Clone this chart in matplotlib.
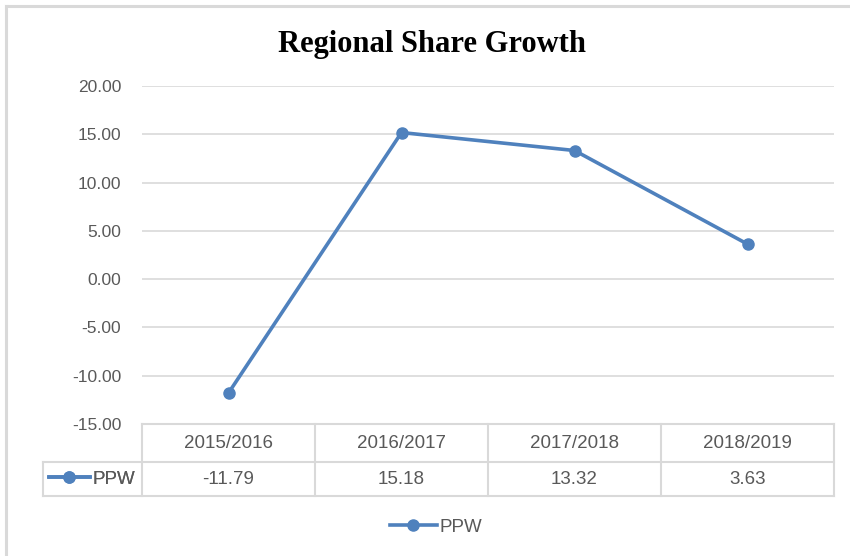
import matplotlib
matplotlib.use("Agg")
import matplotlib.pyplot as plt
import matplotlib.transforms as mtransforms
from matplotlib.lines import Line2D

categories = ["2015/2016", "2016/2017", "2017/2018", "2018/2019"]
ppw = [-11.79, 15.18, 13.32, 3.63]
series_name = "PPW"
yticks = [-15, -10, -5, 0, 5, 10, 15, 20]

blue = "#4f81bd"
grid_c = "#d9d9d9"
text_c = "#595959"
font = "Liberation Sans"
fs = 12.5
fs_tbl = 13.5

W, H = 850, 556
fig = plt.figure(figsize=(W / 100, H / 100), dpi=100)

# plot area in pixels: x 142..834, y 86..424
left, right, top, bottom = 142, 834, 86, 424
ax = fig.add_axes([left / W, 1 - bottom / H, (right - left) / W, (bottom - top) / H])

x = list(range(len(categories)))
ax.plot(x, ppw, color=blue, lw=2.6, marker="o", ms=8, zorder=3,
        solid_capstyle="round")
ax.set_xlim(-0.5, len(categories) - 0.5)
ax.set_ylim(-15, 20)
ax.set_yticks(yticks)
ax.set_yticklabels([f"{v:.2f}" for v in yticks], fontfamily=font, fontsize=fs, color=text_c)
ax.set_xticks([])
ax.tick_params(axis="y", length=0, pad=15)
ax.yaxis.grid(True, color=grid_c, lw=1.2)
ax.set_axisbelow(True)
for s in ax.spines.values():
    s.set_visible(False)

# data table below the plot
tr = mtransforms.blended_transform_factory(ax.transData, ax.transAxes)
ph = bottom - top
row1 = -(462 - bottom) / ph
row2 = -(496 - bottom) / ph
lab_left = (43 - left) / (right - left)
tbl_kw = dict(color=grid_c, lw=1.5, clip_on=False)
ax.plot([-0.5, len(categories) - 0.5], [0, 0], transform=tr, **tbl_kw)
ax.plot([lab_left, 1], [row1, row1], transform=ax.transAxes, **tbl_kw)
ax.plot([lab_left, 1], [row2, row2], transform=ax.transAxes, **tbl_kw)
ax.plot([lab_left, lab_left], [row1, row2], transform=ax.transAxes, **tbl_kw)
for i in range(len(categories) + 1):
    ax.plot([i - 0.5, i - 0.5], [0, row2], transform=tr, **tbl_kw)
for i, (c, v) in enumerate(zip(categories, ppw)):
    ax.text(i, row1 / 2, c, transform=tr, ha="center", va="center",
            fontfamily=font, fontsize=fs_tbl, color=text_c)
    ax.text(i, (row1 + row2) / 2, f"{v:.2f}", transform=tr, ha="center", va="center",
            fontfamily=font, fontsize=fs_tbl, color=text_c)

key = Line2D([0], [0], color=blue, lw=2.6, marker="o", ms=8)
leg1 = ax.legend([key], [series_name], loc="center",
                 bbox_to_anchor=((92 - left) / (right - left), (row1 + row2) / 2),
                 frameon=False, handlelength=2.2, handletextpad=0.15,
                 borderpad=0, borderaxespad=0,
                 prop={"family": font, "size": fs_tbl})
for t in leg1.get_texts():
    t.set_color(text_c)
ax.add_artist(leg1)

leg2 = fig.legend([key], [series_name], loc="center",
                  bbox_to_anchor=(436 / W, 1 - 527 / H),
                  frameon=False, handlelength=2.5, handletextpad=0.15,
                  borderpad=0, prop={"family": font, "size": fs_tbl})
for t in leg2.get_texts():
    t.set_color(text_c)

fig.text(432 / W, 1 - 45 / H, "Regional Share Growth", ha="center", va="center",
         fontfamily="Liberation Serif", fontweight="bold", fontsize=22, color="black")

# outer chart border (top and left only visible)
fig.add_artist(Line2D([6 / W, 6 / W], [0, 1 - 6 / H], color=grid_c, lw=2.2))
fig.add_artist(Line2D([6 / W, 1], [1 - 6 / H, 1 - 6 / H], color=grid_c, lw=2.2))

fig.savefig("out.png", dpi=100)
